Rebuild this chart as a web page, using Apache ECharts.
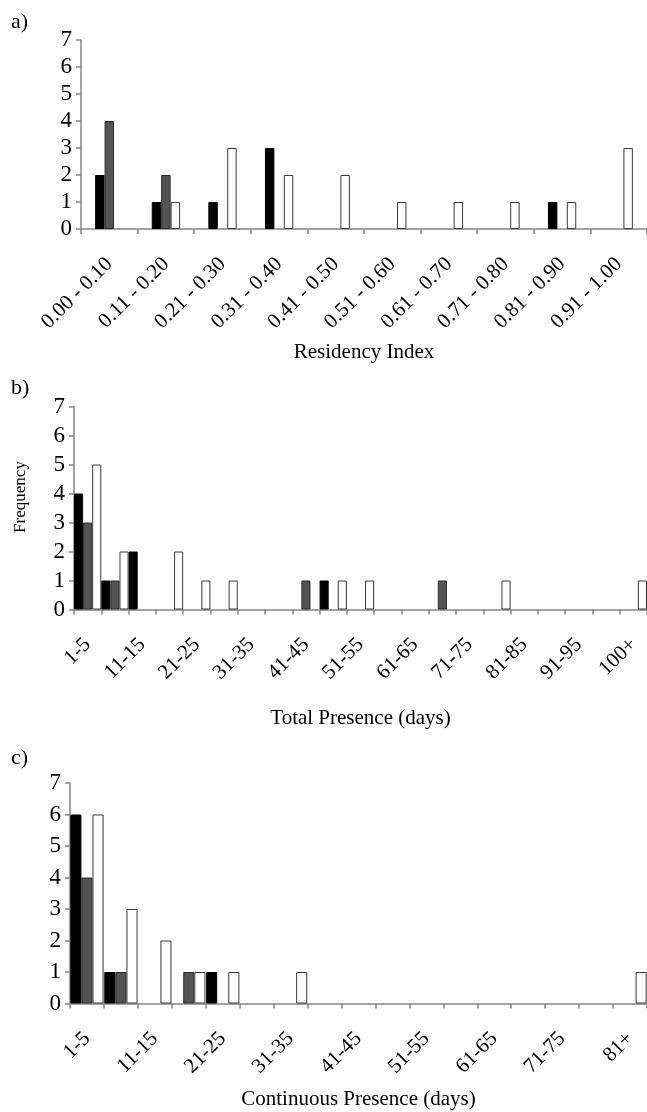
<!DOCTYPE html>
<html>
<head>
<meta charset="utf-8">
<script src="https://cdn.jsdelivr.net/npm/echarts@6/dist/echarts.min.js"></script>
<style>
html,body{margin:0;padding:0;background:#fff;}
#chart{width:647px;height:1112px;}
</style>
</head>
<body>
<div id="chart"></div>
<script>
// ---- data ----
const catsA = ['0.00 - 0.10','0.11 - 0.20','0.21 - 0.30','0.31 - 0.40','0.41 - 0.50','0.51 - 0.60','0.61 - 0.70','0.71 - 0.80','0.81 - 0.90','0.91 - 1.00'];
const aBlack = [2,1,1,3,0,0,0,0,1,0];
const aGray  = [4,2,0,0,0,0,0,0,0,0];
const aWhite = [0,1,3,2,2,1,1,1,1,3];

const catsB = ['1-5','6-10','11-15','16-20','21-25','26-30','31-35','36-40','41-45','46-50','51-55','56-60','61-65','66-70','71-75','76-80','81-85','86-90','91-95','96-100','100+'];
const bBlack = [4,1,2,0,0,0,0,0,0,1,0,0,0,0,0,0,0,0,0,0,0];
const bGray  = [3,1,0,0,0,0,0,0,1,0,0,0,0,1,0,0,0,0,0,0,0];
const bWhite = [5,2,0,2,1,1,0,0,0,1,1,0,0,0,0,1,0,0,0,0,1];

const catsC = ['1-5','6-10','11-15','16-20','21-25','26-30','31-35','36-40','41-45','46-50','51-55','56-60','61-65','66-70','71-75','76-80','81+'];
const cBlack = [6,1,0,0,1,0,0,0,0,0,0,0,0,0,0,0,0];
const cGray  = [4,1,0,1,0,0,0,0,0,0,0,0,0,0,0,0,0];
const cWhite = [6,3,2,1,1,0,1,0,0,0,0,0,0,0,0,0,1];

const yTicks = [0,1,2,3,4,5,6,7];

// ---- styling ----
const FONT = 'Liberation Serif, "Times New Roman", DejaVu Serif, serif';
const AXIS_COLOR = '#858585';
const FILLS = ['#000000', '#545454', '#ffffff'];
const BORDERS = ['#000000', '#2a2a2a', '#3a3a3a'];

const grids = [
  {left: 81, top: 40, width: 567, height: 189},
  {left: 74, top: 406.5, width: 574, height: 203},
  {left: 70, top: 783, width: 578, height: 220.5}
];

function xAxis(i, cats, name, labelInterval, nameGap) {
  return {
    type: 'category', gridIndex: i, data: cats,
    name: name, nameLocation: 'middle', nameGap: nameGap,
    nameTextStyle: {fontFamily: FONT, fontSize: 21, color: '#000'},
    axisLine: {lineStyle: {color: AXIS_COLOR, width: 1.5}},
    axisTick: {show: true, interval: 0, length: 5, lineStyle: {color: AXIS_COLOR, width: 1.5}},
    axisLabel: {interval: labelInterval, rotate: 45, margin: 32, padding: [22,0,0,0],
      fontFamily: FONT, fontSize: 21, color: '#000'},
    splitLine: {show: false}
  };
}
function yAxis(i, name) {
  return {
    type: 'value', gridIndex: i, min: yTicks[0], max: yTicks[yTicks.length-1], interval: 1,
    name: name || '', nameLocation: 'middle', nameGap: 45,
    nameTextStyle: {fontFamily: FONT, fontSize: 17, color: '#000', padding: [0,0,0,22]},
    axisLine: {show: true, lineStyle: {color: AXIS_COLOR, width: 1.5}},
    axisTick: {show: true, length: 5, lineStyle: {color: AXIS_COLOR, width: 1.5}},
    axisLabel: {margin: 9, fontFamily: FONT, fontSize: 23, color: '#000'},
    splitLine: {show: false}
  };
}
function nz(arr) { return arr.map(v => v === 0 ? '-' : v); }
function bars(i, arrs, catGap) {
  return arrs.map((arr, k) => ({
    type: 'bar', xAxisIndex: i, yAxisIndex: i, data: nz(arr),
    barGap: 0, barCategoryGap: catGap,
    itemStyle: {color: FILLS[k], borderColor: BORDERS[k], borderWidth: 1},
    silent: true, animation: false
  }));
}

const option = {
  animation: false,
  backgroundColor: '#fff',
  textStyle: {fontFamily: FONT},
  title: [
    {text: 'a)', left: 6, top: 6, textStyle: {fontFamily: FONT, fontSize: 22, fontWeight: 'normal', color: '#000'}},
    {text: 'b)', left: 6, top: 372, textStyle: {fontFamily: FONT, fontSize: 22, fontWeight: 'normal', color: '#000'}},
    {text: 'c)', left: 6, top: 742, textStyle: {fontFamily: FONT, fontSize: 22, fontWeight: 'normal', color: '#000'}}
  ],
  grid: grids,
  xAxis: [
    xAxis(0, catsA, 'Residency Index', 0, 113),
    xAxis(1, catsB, 'Total Presence (days)', 1, 98),
    xAxis(2, catsC, 'Continuous Presence (days)', 1, 85)
  ],
  yAxis: [yAxis(0), yAxis(1, 'Frequency'), yAxis(2)],
  series: [].concat(
    bars(0, [aBlack, aGray, aWhite], '50%'),
    bars(1, [bBlack, bGray, bWhite], '0%'),
    bars(2, [cBlack, cGray, cWhite], '2%')
  )
};

const chart = echarts.init(document.getElementById('chart'), null, {renderer: 'canvas'});
chart.setOption(option);
</script>
</body>
</html>
